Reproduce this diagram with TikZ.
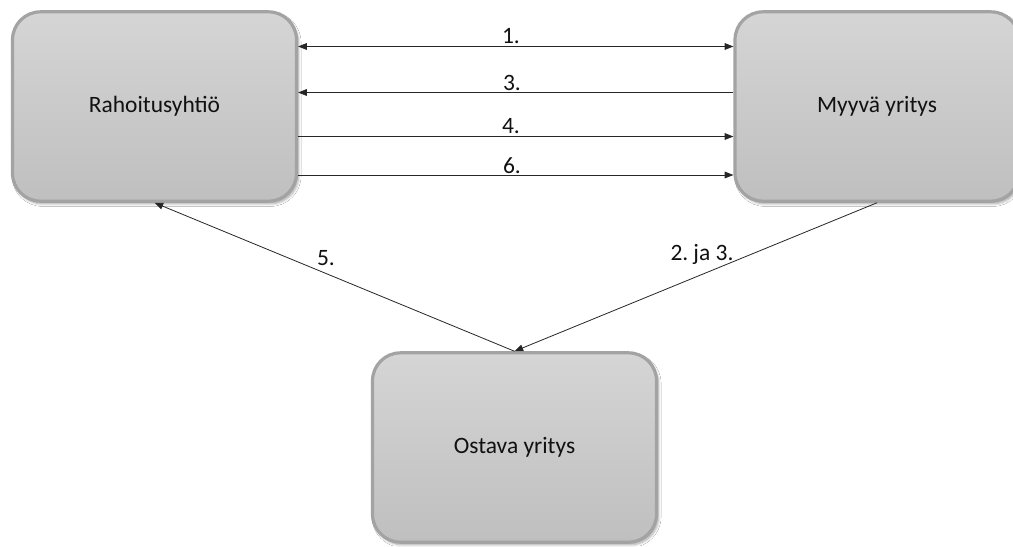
\documentclass[tikz,border=0pt]{standalone}
\usepackage{fontspec}
\setmainfont{Carlito}
\usetikzlibrary{arrows.meta,shadows.blur}
\definecolor{boxtop}{HTML}{D5D5D5}
\definecolor{boxbot}{HTML}{BFBFBF}
\definecolor{boxline}{HTML}{A3A3A3}
\definecolor{txt}{HTML}{111111}
\begin{document}
\begin{tikzpicture}[x=0.75pt,y=-0.75pt,
  entity/.style={rectangle, rounded corners=21pt, draw=boxline, line width=2.4pt,
    top color=boxtop, bottom color=boxbot, minimum width=213pt, minimum height=142pt,
    inner sep=0pt, text=txt, font=\fontsize{17.6}{20}\selectfont,
    blur shadow={shadow xshift=1.5pt, shadow yshift=-2pt, shadow blur steps=6, shadow opacity=35}},
  flow/.style={line width=0.6pt, draw=black!85, -{Triangle[length=6.5pt,width=5pt]}},
  both/.style={flow, {Triangle[length=6.5pt,width=5pt]}-{Triangle[length=6.5pt,width=5pt]}},
  lbl/.style={anchor=base, inner sep=0pt, text=txt, font=\fontsize{17.6}{20}\selectfont}]
\useasboundingbox (0,0) rectangle (1013,546);
\fill[white] (0,0) rectangle (1013,546);
\node[entity] (L) at (154.5,106.5) {Rahoitusyhtiö};
\node[entity] (R) at (877,106.5) {Myyvä yritys};
\node[entity] (B) at (514.5,447.5) {Ostava yritys};
\draw[both] ([shift={(0,-60)}]L.east) -- ([shift={(0,-60)}]R.west);
\draw[flow] ([shift={(0,-14)}]R.west) -- ([shift={(0,-14)}]L.east);
\draw[flow] ([shift={(0,30)}]L.east) -- ([shift={(0,30)}]R.west);
\draw[flow] ([shift={(0,68.5)}]L.east) -- ([shift={(0,68.5)}]R.west);
\draw[flow] (B.north) -- (L.south);
\draw[flow] (R.south) -- (B.north);
\node[lbl] (l1) at (511,43) {1.};
\node[lbl] (l3) at (512,90) {3.};
\node[lbl] (l4) at (511,133) {4.};
\node[lbl] (l6) at (512,173) {6.};
\node[lbl] (l5) at (326,265) {5.};
\node[lbl] (l2) at (702,260) {2.\hspace{-1.5pt} ja 3.};
\end{tikzpicture}
\end{document}
